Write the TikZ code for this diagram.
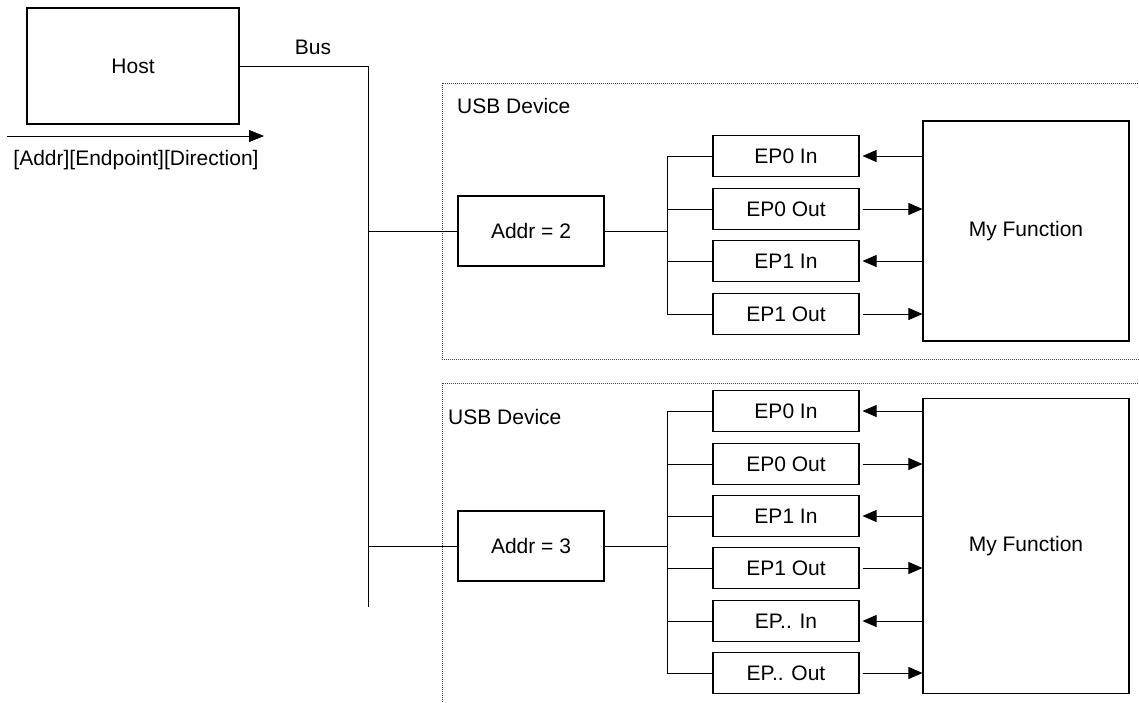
\documentclass[tikz,border=0pt]{standalone}
\usepackage{fontspec}
\setmainfont{Liberation Sans}
\usetikzlibrary{arrows.meta}
\begin{document}
\begin{tikzpicture}[x=1pt,y=-1pt,
  font=\fontsize{21}{25}\selectfont,
  box/.style={draw,line width=1.1pt,inner sep=0pt},
  epbox/.style={box,minimum width=146pt,minimum height=41pt},
  addrbox/.style={box,minimum width=146pt,minimum height=70pt},
  funbox/.style={box,minimum width=206pt},
  wire/.style={line width=0.8pt},
  tip/.style={},
  epin/.style={wire,{Triangle[length=14pt,width=12pt]}-,shorten <=3pt},
  epout/.style={wire,-{Triangle[length=14pt,width=12pt]},shorten <=3pt},
  devframe/.style={draw=black!75,line width=0.7pt,dash pattern=on 1pt off 1pt},
  lbl/.style={inner sep=0pt}]
\useasboundingbox (0,0) rectangle (1139,702);
\clip (0,0) rectangle (1139,702);

% device frames
\draw[devframe] (442,83) rectangle (1160,359);
\draw[devframe] (442,383) rectangle (1160,730);
\node[lbl,anchor=west] (usb1) at (457,106) {USB Device};
\node[lbl,anchor=west] (usb2) at (448,417) {USB Device};

% host
\node[box,minimum width=212pt,minimum height=116pt] (host) at (133,66) {Host};
\node[lbl] (buslbl) at (313,47) {Bus};
\coordinate (arrS) at (7,136);
\coordinate (arrE) at (264,136);
\draw[wire,-{Triangle[length=15pt,width=12pt]}] (arrS) -- (arrE);
\node[lbl] (addrlbl) at (136,160) {[Addr][Endpoint][Direction]};

% bus
\coordinate (busTop) at (368,66);
\coordinate (busEnd) at (368,607);
\draw[wire] (host.east) -- (busTop) -- (busEnd);

% device 1
\node[addrbox] (addr2) at (531,231) {Addr = 2};
\node[funbox,minimum height=220pt] (f1) at (1026,231) {My Function};
\coordinate (j1) at (667,231);
\draw[wire] (addr2.west) -- (addr2.west -| busTop);
\draw[wire] (addr2.east) -- (j1);
\foreach \n/\t/\y/\d in {a/EP0 In/156/epin, b/EP0 Out/209/epout, c/EP1 In/261/epin, d/EP1 Out/314/epout}{
  \node[epbox] (d1\n) at (786,\y) {\t};
  \draw[wire] (j1) |- (d1\n.west);
  \draw[\d] (d1\n.east) -- (d1\n.east -| f1.west);
}

% device 2
\node[addrbox] (addr3) at (531,546) {Addr = 3};
\node[funbox,minimum height=295pt] (f2) at (1026,546) {My Function};
\coordinate (j2) at (667,546);
\draw[wire] (addr3.west) -- (addr3.west -| busTop);
\draw[wire] (addr3.east) -- (j2);
\foreach \n/\t/\y/\d in {a/EP0 In/411/epin, b/EP0 Out/464/epout, c/EP1 In/516/epin, d/EP1 Out/568/epout, e/EP.. In/621/epin, f/EP.. Out/673/epout}{
  \node[epbox] (d2\n) at (786,\y) {\t};
  \draw[wire] (j2) |- (d2\n.west);
  \draw[\d] (d2\n.east) -- (d2\n.east -| f2.west);
}
\end{tikzpicture}
\end{document}
